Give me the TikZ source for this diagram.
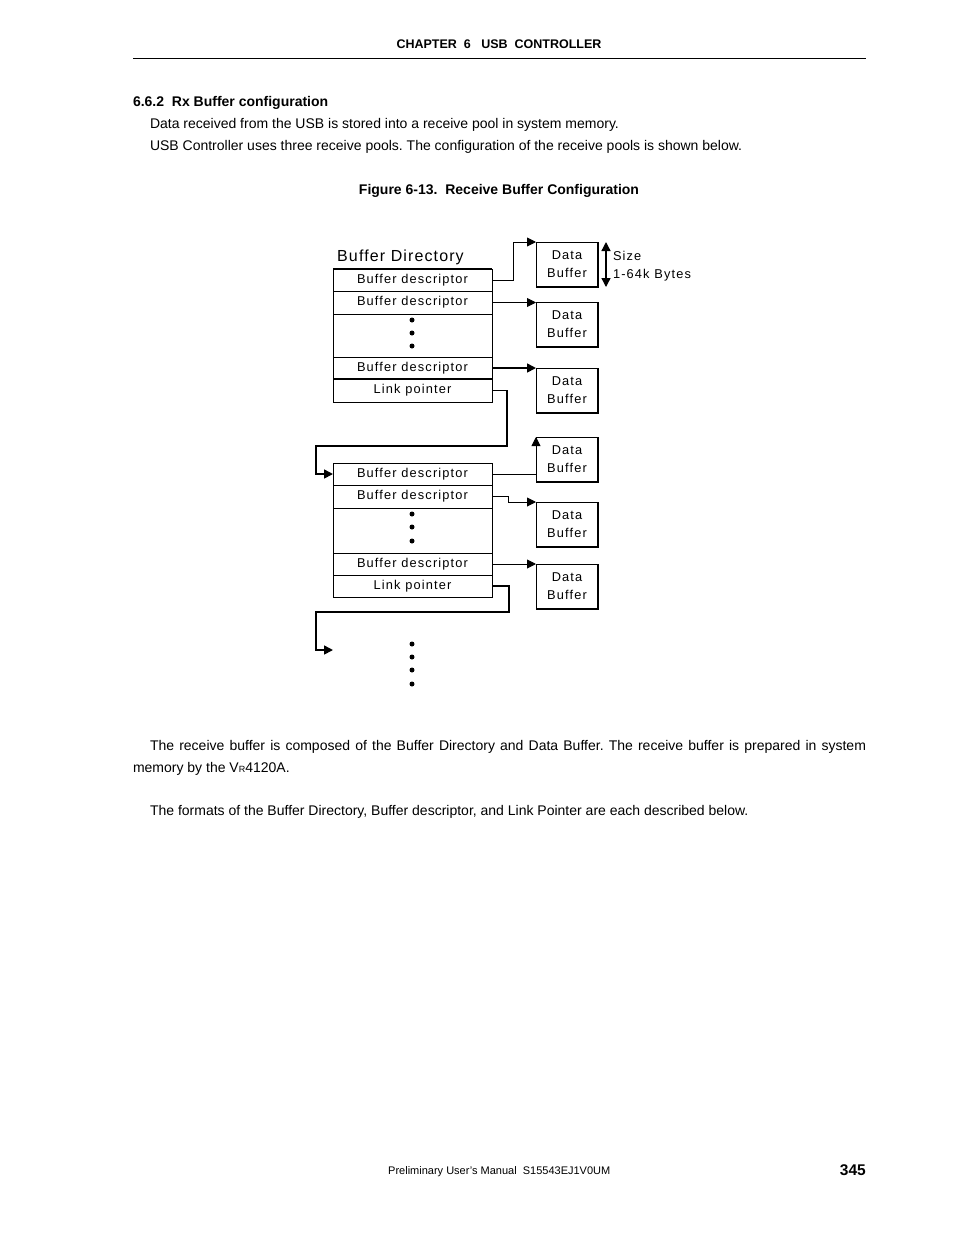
\documentclass[tikz,border=0pt]{standalone}
\usepackage{fontspec}
\setmainfont{Liberation Sans}
\newfontfamily\dfont[LetterSpace=9]{Liberation Sans}
\newfontfamily\tfont[LetterSpace=7]{Liberation Sans}
\usetikzlibrary{arrows.meta,calc}
\frenchspacing
\begin{document}
\frenchspacing
\begin{tikzpicture}[x=1pt,y=-1pt,
  txt/.style={inner sep=0pt,outer sep=0pt,anchor=base west,font=\fontsize{14}{16}\selectfont},
  row/.style={draw,line width=0.9pt,minimum width=159pt,inner sep=0pt,outer sep=0pt,anchor=north west,font=\dfont\fontsize{12.8}{13}\selectfont},
  dbuf/.style={draw,line width=0.9pt,minimum width=62pt,minimum height=45pt,inner sep=0pt,outer sep=0pt,anchor=north west,align=center,font=\dfont\fontsize{12.8}{18}\selectfont},
  conn/.style={line width=0.9pt,-{Triangle[length=9pt,width=9pt]}},
  thk/.style={line width=1.6pt},
  dot/.style={fill,circle,inner sep=0pt,minimum size=5pt},
  lbl/.style={inner sep=0pt,outer sep=0pt,anchor=base west,font=\dfont\fontsize{12.8}{13}\selectfont}]
\useasboundingbox[fill=white] (0,0) rectangle (954,1235);

% page header
\node[inner sep=0pt,anchor=base,font=\bfseries\fontsize{12.5}{14}\selectfont] (hdr) at (499,48) {CHAPTER\ \ 6\ \ \ USB\ \ CONTROLLER};
\draw[line width=0.8pt] (133,58) -- (866,58);
\node[txt,font=\bfseries\fontsize{14}{16}\selectfont] (sec) at (133,106) {6.6.2\ \ Rx Buffer configuration};
\node[txt] (p1) at (150,128) {Data received from the USB is stored into a receive pool in system memory.};
\node[txt] (p2) at (150,150) {USB Controller uses three receive pools. The configuration of the receive pools is shown below.};
\node[inner sep=0pt,anchor=base,font=\bfseries\fontsize{14}{16}\selectfont] (fig) at (499,194) {Figure 6-13.\ \ Receive Buffer Configuration};

% diagram: directory 1
\node[inner sep=0pt,anchor=base west,font=\tfont\fontsize{16}{18}\selectfont] (bdir) at (337,261) {Buffer Directory};
\node[row,minimum height=22pt] (d1r1) at (333,269) {Buffer descriptor};
\node[row,minimum height=23pt] (d1r2) at (333,291) {Buffer descriptor};
\node[row,minimum height=43pt] (d1dt) at (333,314) {};
\node[row,minimum height=22pt] (d1r3) at (333,357) {Buffer descriptor};
\node[row,minimum height=23pt] (d1lp) at (333,379) {Link pointer};
\draw[thk] (d1r1.north west) -- (d1r1.north east);
\draw[thk] (d1lp.north west) -- (d1lp.north east);
\node[dot] (d1a) at (412,320) {};
\node[dot] (d1b) at (412,333) {};
\node[dot] (d1c) at (412,346) {};

% directory 2
\node[row,minimum height=22pt] (d2r1) at (333,463) {Buffer descriptor};
\node[row,minimum height=23pt] (d2r2) at (333,485) {Buffer descriptor};
\node[row,minimum height=45pt] (d2dt) at (333,508) {};
\node[row,minimum height=22pt] (d2r3) at (333,553) {Buffer descriptor};
\node[row,minimum height=22pt] (d2lp) at (333,575) {Link pointer};
\node[dot] (d2a) at (412,514) {};
\node[dot] (d2b) at (412,527) {};
\node[dot] (d2c) at (412,541) {};

% data buffers
\node[dbuf] (db1) at (536,242) {Data\\Buffer};
\node[dbuf] (db2) at (536,302) {Data\\Buffer};
\node[dbuf] (db3) at (536,368) {Data\\Buffer};
\node[dbuf] (db4) at (536,437) {Data\\Buffer};
\node[dbuf] (db5) at (536,502) {Data\\Buffer};
\node[dbuf] (db6) at (536,564) {Data\\Buffer};
\foreach \b in {db1,db2,db3,db4,db5,db6}{
  \draw[line width=1.5pt] (\b.north east) -- (\b.south east) -- (\b.south west);
}

% size annotation
\draw[line width=1.3pt,{Triangle[length=9pt,width=9pt]}-{Triangle[length=9pt,width=9pt]}] ($(db1.north east)+(8,0)$) -- ($(db1.south east)+(8,0)$);
\node[lbl] (sz1) at (613,260) {Size};
\node[lbl] (sz2) at (613,278) {1-64k Bytes};

% connectors, directory 1
\draw[conn] (d1r1.east) -- ++(21,0) |- (db1.north west);
\draw[conn] (d1r2.east) -- (d1r2.east -| db2.west);
\draw[conn,thk] (d1r3.east) -- (d1r3.east -| db3.west);
\draw[conn,thk] (d1lp.east) -- ++(15,0) |- ($(d2r1.west)+(-17,-28)$) |- (d2r1.west);

% connectors, directory 2
\draw[conn] (d2r1.east) -| (db4.north west);
\draw[conn] (d2r2.east) -- ++(16,0) |- (db5.north west);
\draw[conn] (d2r3.east) -- (d2r3.east -| db6.west);
\coordinate (cont) at (333,650);
\draw[conn,thk] (d2lp.east) -- ++(17,0) |- ($(cont)+(-17,-38)$) |- (cont);

\node[dot] (e1) at (412,644) {};
\node[dot] (e2) at (412,657) {};
\node[dot] (e3) at (412,670) {};
\node[dot] (e4) at (412,684) {};

% body text below
\node[txt] (q1) at (150,750) {\hbox to 716pt{The receive buffer is composed of the Buffer Directory and Data Buffer. The receive buffer is prepared in system}};
\node[txt] (q2) at (133,772) {memory by the V{\fontsize{9}{9}\selectfont R}4120A.};
\node[txt] (q3) at (150,815) {The formats of the Buffer Directory, Buffer descriptor, and Link Pointer are each described below.};

% footer
\node[inner sep=0pt,anchor=base west,font=\fontsize{11}{13}\selectfont] (ft) at (388,1174) {Preliminary User's Manual\ \ S15543EJ1V0UM};
\node[inner sep=0pt,anchor=base east,font=\bfseries\fontsize{15.5}{17}\selectfont] (pg) at (866,1175) {345};
\end{tikzpicture}
\end{document}
